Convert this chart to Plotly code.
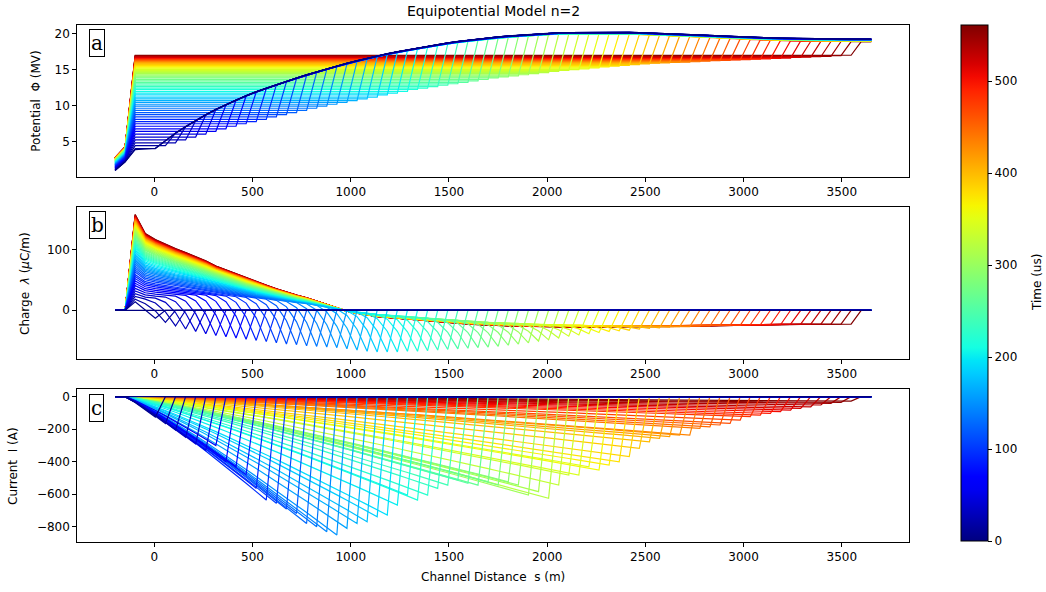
import numpy as np
import plotly.graph_objects as go

# ---------------- data ----------------
# channel grid nodes (m)
s_nodes = np.linspace(-200, 3650, 76)
# times of the curves (us), t=0 is the initial leader state
times = list(range(0, 561, 8))
# front node index of each curve k=1..70
front_node = list(range(4, 74))

# initial (t=0) leader potential at the nodes (MV)
pot_initial = [1.0, 2.2, 3.9, 4.0, 4.1, 5.15, 6.2, 7.1, 7.95, 8.75,
               9.5, 10.15, 10.8, 11.4, 11.95, 12.45, 12.95, 13.4, 13.85, 14.3,
               14.72, 15.12, 15.52, 15.9, 16.25, 16.6, 16.92, 17.22, 17.5, 17.76,
               18.02, 18.26, 18.5, 18.72, 18.92, 19.1, 19.27, 19.42, 19.56, 19.68,
               19.79, 19.9, 20.0, 20.1, 20.13, 20.15, 20.17, 20.19, 20.22, 20.24,
               20.23, 20.19, 20.14, 20.1, 20.05, 20.01, 19.97, 19.9, 19.83, 19.76,
               19.69, 19.62, 19.55, 19.49, 19.46, 19.42, 19.38, 19.35, 19.31, 19.27,
               19.26, 19.25, 19.25, 19.25, 19.25, 19.25]
# channel potential behind the front per curve (MV)
pot_level = [4.05, 4.45, 4.85, 5.25, 5.65, 6.05, 6.45, 6.8, 7.15, 7.5, 7.8, 8.1,
             8.45, 8.75, 9.05, 9.35, 9.65, 9.95, 10.2, 10.45, 10.7, 10.95, 11.2, 11.5, 11.75,
             12.0, 12.25, 12.45, 12.65, 12.85, 13.05, 13.25, 13.45, 13.65, 13.85, 14.0,
             14.15, 14.3, 14.45, 14.6, 14.75, 14.9, 15.0, 15.1, 15.25, 15.4,
             15.5, 15.6, 15.7, 15.8, 15.9, 15.95, 16.0, 16.05, 16.1, 16.2,
             16.25, 16.3, 16.35, 16.4, 16.45, 16.5, 16.55, 16.6, 16.7, 16.75, 16.8, 16.85, 16.95, 17.0]
# potential at s=-200 and s=-149 per curve
pot_ground0 = [1.0, 1.06, 1.11, 1.17, 1.22, 1.28, 1.33, 1.38, 1.43, 1.48, 1.52, 1.56, 1.61, 1.65,
               1.7, 1.74, 1.78, 1.82, 1.85, 1.89, 1.92, 1.96, 1.99, 2.04, 2.07, 2.11, 2.14, 2.17,
               2.2, 2.22, 2.25, 2.28, 2.31, 2.33, 2.36, 2.38, 2.4, 2.42, 2.45, 2.47, 2.49, 2.51,
               2.52, 2.54, 2.56, 2.58, 2.59, 2.61, 2.62, 2.63, 2.65, 2.65, 2.66, 2.67, 2.67, 2.69,
               2.7, 2.7, 2.71, 2.72, 2.72, 2.73, 2.74, 2.74, 2.76, 2.77, 2.77, 2.78, 2.79, 2.8]
pot_ground1 = [2.2, 2.26, 2.33, 2.39, 2.46, 2.52, 2.59, 2.65, 2.7, 2.76, 2.81, 2.86, 2.91, 2.96,
               3.01, 3.06, 3.11, 3.16, 3.2, 3.24, 3.28, 3.32, 3.36, 3.41, 3.45, 3.49, 3.53, 3.56,
               3.59, 3.63, 3.66, 3.69, 3.72, 3.76, 3.79, 3.81, 3.84, 3.86, 3.88, 3.91, 3.93, 3.96,
               3.97, 3.99, 4.01, 4.04, 4.05, 4.07, 4.09, 4.1, 4.12, 4.13, 4.14, 4.14, 4.15, 4.17,
               4.18, 4.18, 4.19, 4.2, 4.21, 4.22, 4.23, 4.23, 4.25, 4.26, 4.27, 4.27, 4.29, 4.3]
# drop of the potential ahead of the front per curve (MV)
pot_ahead_drop = [0.01, 0.01, 0.02, 0.02, 0.03, 0.03, 0.04, 0.04, 0.05, 0.05,
                  0.06, 0.06, 0.07, 0.07, 0.08, 0.08, 0.09, 0.09, 0.10, 0.10,
                  0.11, 0.11, 0.12, 0.12, 0.13, 0.13, 0.14, 0.14, 0.15, 0.15,
                  0.16, 0.16, 0.17, 0.17, 0.18, 0.18, 0.19, 0.19, 0.20, 0.20,
                  0.21, 0.21, 0.22, 0.22, 0.23, 0.23, 0.24, 0.24, 0.25, 0.25,
                  0.26, 0.26, 0.27, 0.27, 0.28, 0.28, 0.29, 0.29, 0.30, 0.30,
                  0.31, 0.31, 0.32, 0.32, 0.33, 0.33, 0.34, 0.34, 0.35, 0.35]

# charge profile of the latest curve at the nodes (uC/m)
charge_last = [0, 0, 160, 128, 118, 110, 103, 96.5, 89.5, 82.5,
               74, 67.5, 60.5, 54, 48, 42, 36, 30.5, 25.5, 21,
               15.2, 9.3, 3.4, -1.5, -5, -8, -10.5, -12, -13.5, -15,
               -16.5, -18, -19.5, -21, -22, -23, -24, -25, -25.5, -26,
               -26.5, -27, -27.5, -28, -28, -28, -28, -28, -28, -28,
               -28, -28, -28, -28, -27.8, -27.5, -27, -26.6, -26.2, -25.8,
               -25.4, -25, -25, -24.7, -24.4, -24.2, -24, -23.8, -23.6, -23.4,
               -23.2, -23.1, -23, -23, -23, -23]
# charge peak near ground per curve (uC/m)
charge_peak = [14.0, 18.5, 23.0, 27.4, 31.9, 36.4, 40.9, 44.8, 48.7, 52.6, 56.0, 59.3,
               63.3, 66.6, 70.0, 73.3, 76.7, 80.1, 82.9, 85.7, 88.5, 91.3, 94.1, 97.4, 100.2,
               103.0, 105.8, 108.1, 110.3, 112.5, 114.8, 117.0, 119.3, 121.5, 123.7, 125.4,
               127.1, 128.8, 130.4, 132.1, 133.8, 135.5, 136.6, 137.7, 139.4, 141.1,
               142.2, 143.3, 144.4, 145.6, 146.7, 147.2, 147.8, 148.4, 148.9, 150.0,
               150.6, 151.2, 151.7, 152.3, 152.8, 153.4, 154.0, 154.5, 155.6, 156.2,
               156.8, 157.3, 158.4, 159.0]
# charge at the front per curve (uC/m)
charge_front = [-13, -20, -26, -31, -35, -39, -42, -44, -46, -48,
                -50, -52, -54, -56, -57, -59, -60, -61, -62, -64,
                -66, -68, -69, -69, -69, -68, -68, -67, -66, -65,
                -64, -63, -62, -61, -60, -58, -56, -54, -51, -49,
                -46, -43, -41, -39, -37, -35, -34, -33, -31, -30,
                -29, -28, -27, -27, -26, -26, -25, -25, -25, -24,
                -24, -24, -24, -23, -23, -23, -23, -23, -23, -23]
charge_dip_weight = [0.12, 0.45, 1.0]

# current at the front per curve (A)
current_front = [-125, -165, -205, -250, -290, -330, -300, -400, -430, -480,
                 -564, -636, -656, -691, -718, -780, -800, -831, -851, -810,
                 -780, -769, -738, -728, -667, -605, -636, -605, -564, -544,
                 -513, -533, -544, -523, -543, -523, -543, -605, -584, -625,
                 -543, -482, -482, -431, -451, -420, -400, -369, -318, -277,
                 -256, -246, -236, -236, -195, -185, -174, -164, -144, -123,
                 -113, -103, -92, -82, -72, -62, -51, -41, -35, -27]
current_shape_power = 1.15

assert len(pot_initial) == 76 and len(charge_last) == 76
for arr in (pot_level, pot_ground0, pot_ground1, pot_ahead_drop, charge_peak, charge_front, current_front):
    assert len(arr) == 70

# ---------------- build the curves ----------------
n = len(s_nodes)
pot_curves, chg_curves, cur_curves = [list(pot_initial)], [[0.0] * n], [[0.0] * n]
for k in range(70):
    f = front_node[k]
    p = []
    for j in range(n):
        if j == 0:
            p.append(pot_ground0[k])
        elif j == 1:
            p.append(pot_ground1[k])
        elif j <= f:
            p.append(pot_level[k])
        else:
            p.append(pot_initial[j] - pot_ahead_drop[k])
    pot_curves.append(p)
    sc = charge_peak[k] / charge_last[2]
    c = [sc * charge_last[j] if j <= f else 0.0 for j in range(n)]
    dip = charge_front[k] - sc * charge_last[f]
    for w, jj in zip(charge_dip_weight, (f - 2, f - 1, f)):
        if jj >= 3:
            c[jj] += w * dip
    chg_curves.append(c)
    s1, sf = s_nodes[1], s_nodes[f]
    cu = []
    for j in range(n):
        if j == 0 or j > f:
            cu.append(0.0)
        else:
            cu.append(current_front[k] * ((s_nodes[j] - s1) / (sf - s1)) ** current_shape_power)
    cur_curves.append(cu)


def jet(v):
    r = np.interp(v, [0, 0.35, 0.66, 0.89, 1], [0, 0, 1, 1, 0.5])
    g = np.interp(v, [0, 0.125, 0.375, 0.64, 0.91, 1], [0, 0, 1, 1, 0, 0])
    b = np.interp(v, [0, 0.11, 0.34, 0.65, 1], [0.5, 1, 1, 0, 0])
    return "rgb(%d,%d,%d)" % (round(r * 255), round(g * 255), round(b * 255))


TMAX = 560.0
fig = go.Figure()
panels = [(pot_curves, "x", "y"), (chg_curves, "x2", "y2"), (cur_curves, "x3", "y3")]
for curves, xa, ya in panels:
    for k in reversed(range(len(times))):
        fig.add_trace(go.Scatter(
            x=s_nodes, y=curves[k], mode="lines", xaxis=xa, yaxis=ya,
            line=dict(color=jet(times[k] / TMAX), width=1.2),
            showlegend=False, hoverinfo="skip"))

# colorbar
cs = [[i / 40, jet(i / 40)] for i in range(41)]
fig.add_trace(go.Scatter(
    x=[None], y=[None], mode="markers", xaxis="x", yaxis="y", showlegend=False,
    marker=dict(color=[0], cmin=0, cmax=561, colorscale=cs, showscale=True,
                colorbar=dict(x=961 / 1046, xanchor="left", y=1 - 283 / 592, yanchor="middle",
                              xpad=0, ypad=0,
                              thickness=27, thicknessmode="pixels", len=516, lenmode="pixels",
                              outlinewidth=1, outlinecolor="black",
                              ticks="outside", ticklen=4, tickcolor="black",
                              tickvals=[0, 100, 200, 300, 400, 500],
                              tickfont=dict(size=12, color="black")))))

FONT = "DejaVu Sans"
xdom = [77.3 / 1046, 909 / 1046]
axis_common = dict(showline=True, mirror=True, linecolor="black", linewidth=1,
                   ticks="outside", ticklen=4, tickcolor="black", showgrid=False,
                   zeroline=False, tickfont=dict(size=12, color="black"))
xticks = [0, 500, 1000, 1500, 2000, 2500, 3000, 3500]


def ydom(top, bot):
    return [1 - bot / 592, 1 - top / 592]


fig.update_layout(
    width=1046, height=592, margin=dict(l=0, r=0, t=0, b=0, autoexpand=False),
    paper_bgcolor="white", plot_bgcolor="white",
    font=dict(family=FONT, size=12, color="black"),
    xaxis=dict(domain=xdom, anchor="y", range=[-392, 3842], tickvals=xticks, **axis_common),
    xaxis2=dict(domain=xdom, anchor="y2", range=[-392, 3842], tickvals=xticks, **axis_common),
    xaxis3=dict(domain=xdom, anchor="y3", range=[-392, 3842], tickvals=xticks, **axis_common),
    yaxis=dict(domain=ydom(25, 176.7), anchor="x", range=[0.15, 21.2], tickvals=[5, 10, 15, 20], **axis_common),
    yaxis2=dict(domain=ydom(207.3, 359), anchor="x2", range=[-80.8, 170.8], tickvals=[0, 100], **axis_common),
    yaxis3=dict(domain=ydom(389.3, 541.7), anchor="x3", range=[-892, 45.5],
                tickvals=[0, -200, -400, -600, -800], **axis_common),
)

ann = []
ann.append(dict(text="Equipotential Model n=2", x=493 / 1046, y=1 - 11 / 592, xref="paper", yref="paper",
                showarrow=False, xanchor="center", yanchor="middle", font=dict(size=14)))
ann.append(dict(text="Channel Distance  s (m)", x=493 / 1046, y=1 - 577 / 592, xref="paper", yref="paper",
                showarrow=False, xanchor="center", yanchor="middle", font=dict(size=12)))
for txt, xc, yc in [("Potential  Φ (MV)", 36, 101.7),
                    ("Charge  <i>λ</i> (<i>μ</i>C/m)", 25, 284),
                    ("Current  I (A)", 13, 466),
                    ("Time (us)", 1037, 283)]:
    ann.append(dict(text=txt, x=xc / 1046, y=1 - yc / 592, xref="paper", yref="paper", textangle=-90,
                    showarrow=False, xanchor="center", yanchor="middle", font=dict(size=12)))
for letter, xl, yt in [("a", 88.5, 28.5), ("b", 88.5, 211), ("c", 88.5, 393.5)]:
    ann.append(dict(text=letter, x=xl / 1046, y=1 - yt / 592, xref="paper", yref="paper",
                    showarrow=False, xanchor="left", yanchor="top",
                    font=dict(family="DejaVu Serif", size=20, color="black"),
                    bordercolor="black", borderwidth=1, borderpad=1, bgcolor="white"))
fig.update_layout(annotations=ann)

fig.write_html("out.html", config={"displayModeBar": False},
               post_script="document.body.style.margin='0px';document.body.style.overflow='hidden';")
